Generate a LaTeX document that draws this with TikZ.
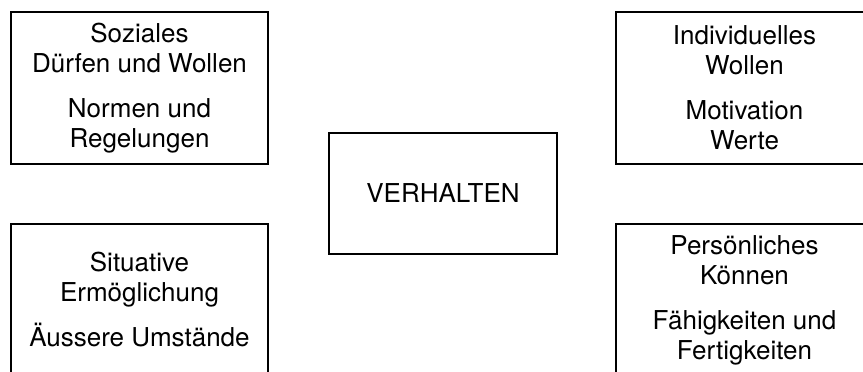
\documentclass[tikz,border=0pt]{standalone}
\usepackage{fontspec}
\setmainfont{TeX Gyre Heros}
\usetikzlibrary{positioning}

\begin{document}
\begin{tikzpicture}[
    x=0.5pt, y=-0.5pt,
    every node/.style={font=\fontsize{13pt}{15pt}\selectfont},
    factor/.style={draw, line width=1pt, align=center, minimum width=128.5pt, minimum height=76pt, inner sep=0pt},
    centre/.style={draw, line width=1pt, align=center, minimum width=114pt, minimum height=60.5pt}
]
\useasboundingbox (0,0) rectangle (863,371);
\node[centre] (verhalten) at (443,193.5) {VERHALTEN};
\node[factor] (sozial) at (139.5,88) {Soziales\\Dürfen und Wollen\\[7.5pt]Normen und\\Regelungen};
\node[factor] (wollen) at (744.5,88) {Individuelles\\Wollen\\[7.5pt]Motivation\\Werte};
\node[factor] (situativ) at (139.5,300) {Situative\\Ermöglichung\\[7.5pt]Äussere Umstände};
\node[factor] (koennen) at (744.5,300) {Persönliches\\Können\\[7.5pt]Fähigkeiten und\\Fertigkeiten};
\end{tikzpicture}
\end{document}
